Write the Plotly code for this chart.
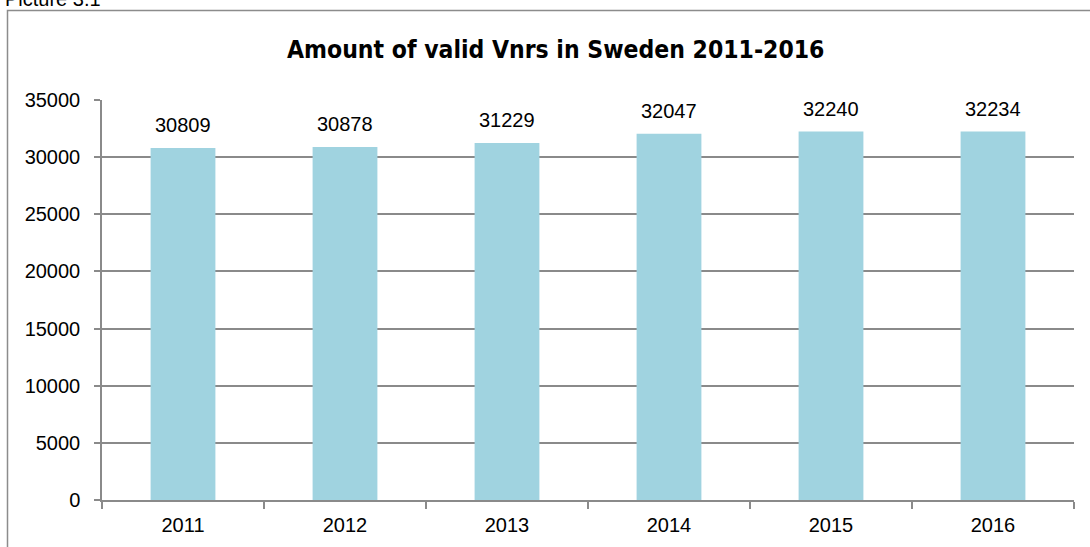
import plotly.graph_objects as go

years = ["2011", "2012", "2013", "2014", "2015", "2016"]
values = [30809, 30878, 31229, 32047, 32240, 32234]
y_ticks = [0, 5000, 10000, 15000, 20000, 25000, 30000, 35000]

W, H = 1090, 547
ML, MR, MT, MB = 102, 16, 100, 47
PW = W - ML - MR
PH = H - MT - MB

def px_x(p):
    return (p - ML) / PW

def px_y(p):
    return (H - MB - p) / PH

grid = "#8a8a8a"
fnt = "Liberation Sans, Arial"
fig = go.Figure()
fig.add_trace(go.Bar(
    x=years, y=values,
    marker=dict(color="#A0D3E0", line=dict(width=0)),
    width=0.4,
    hoverinfo="x+y",
))
for i, v in enumerate(values):
    fig.add_annotation(x=i, y=v, text=str(v), showarrow=False,
                       yanchor="bottom", yshift=10,
                       font=dict(family=fnt, size=20, color="#000"))

fig.add_annotation(xref="paper", yref="paper", x=px_x(555), y=px_y(49),
                   text="<b>Amount of valid Vnrs in Sweden 2011-2016</b>",
                   showarrow=False, xanchor="center", yanchor="middle",
                   font=dict(family="DejaVu Sans Condensed, Liberation Sans Narrow, Liberation Sans", size=24.5, color="#000"))
fig.add_annotation(xref="paper", yref="paper", x=px_x(3), y=px_y(-1),
                   text="Picture 3.1", showarrow=False, xanchor="left", yanchor="middle",
                   font=dict(family=fnt, size=20, color="#000"))

fig.add_shape(type="rect", xref="paper", yref="paper",
              x0=px_x(7.5), x1=px_x(1110), y0=px_y(10.5), y1=px_y(560),
              line=dict(color="#8c8c8c", width=1.5), fillcolor="rgba(0,0,0,0)", layer="below")

fig.update_layout(
    width=W, height=H,
    margin=dict(l=ML, r=MR, t=MT, b=MB),
    paper_bgcolor="white", plot_bgcolor="white",
    showlegend=False,
    xaxis=dict(type="category", tickson="boundaries", ticks="outside", ticklen=7,
               tickcolor=grid, tickwidth=1.5, showline=True, linecolor=grid, linewidth=1.5,
               showgrid=False, range=[-0.5, 5.5], ticklabelstandoff=6,
               tickfont=dict(family=fnt, size=20, color="#000")),
    yaxis=dict(range=[0, 35000], tickvals=y_ticks, tickformat="d", ticks="outside", ticklen=6,
               tickcolor=grid, tickwidth=1.5, showline=True, linecolor=grid, linewidth=1.5,
               showgrid=True, gridcolor=grid, gridwidth=1.5, zeroline=False,
               ticklabelstandoff=10,
               tickfont=dict(family=fnt, size=20, color="#000")),
)

fig.write_html("out.html", config={"displayModeBar": False},
               post_script="document.body.style.margin='0';")
